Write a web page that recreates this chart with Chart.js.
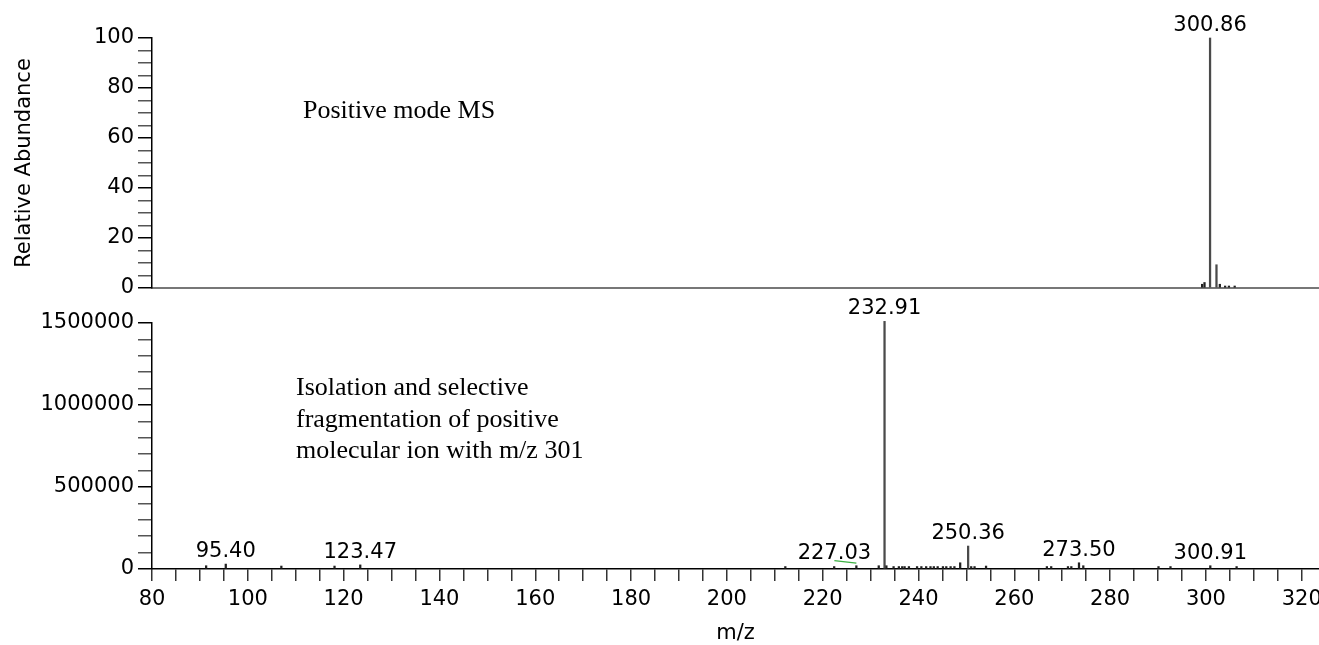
<!DOCTYPE html>
<html><head><meta charset="utf-8">
<script src="https://cdn.jsdelivr.net/npm/chart.js@4.4.1/dist/chart.umd.min.js"></script>
<style>
html,body{margin:0;padding:0;background:#fff;width:1319px;height:645px;overflow:hidden;}
canvas{position:absolute;left:0;}
#c1{top:0;} #c2{top:280px;}
</style></head><body>
<canvas id="c1" width="1319" height="310"></canvas>
<canvas id="c2" width="1319" height="365"></canvas>
<script>
// ---- data ----
const xTickLabels = [80,100,120,140,160,180,200,220,240,260,280,300,320];
const topYTickLabels = [0,20,40,60,80,100];
const botYTickLabels = [0,500000,1000000,1500000];

const topMz    = [299.2, 299.7, 300.86, 302.2, 302.9, 304.0, 304.8, 306.0];
const topAbund = [1.5,   2.2,   100,    9.3,   1.5,   0.8,   0.8,   0.8];
const topLabeled = [300.86];

const botMz  = [91.3, 95.40, 107.0, 118.1, 123.47, 212.2, 222.4, 227.03, 231.7, 232.91, 233.3,
                234.8, 235.9, 236.6, 237.1, 238.0, 239.7, 240.6, 241.6, 242.5, 243.2, 244.0,
                245.1, 245.8, 246.7, 247.5, 248.7, 250.36, 251.0, 251.7, 254.1, 266.8, 267.7,
                271.2, 271.9, 273.50, 274.4, 290.1, 292.6, 300.91, 306.4];
const botInt = [20000, 30000, 18000, 18000, 25000, 15000, 15000, 20000, 20000, 1510000, 20000,
                15000, 15000, 15000, 15000, 15000, 15000, 15000, 15000, 15000, 15000, 15000,
                15000, 15000, 15000, 15000, 38000, 140000, 15000, 15000, 18000, 15000, 15000,
                15000, 15000, 38000, 20000, 15000, 15000, 20000, 15000];
const botLabeled = [95.40, 123.47, 227.03, 232.91, 250.36, 273.50, 300.91];

const topNote = ['Positive mode MS'];
const botNote = ['Isolation and selective', 'fragmentation of positive', 'molecular ion with m/z 301'];

// ---- plugins ----
const peakLabels = {
  id: 'peakLabels',
  afterDatasetsDraw(chart, args, o) {
    const ctx = chart.ctx, xs = chart.scales.x, ys = chart.scales.y;
    ctx.save();
    ctx.font = '21px "DejaVu Sans"';
    ctx.fillStyle = '#000';
    ctx.textAlign = 'center';
    ctx.textBaseline = 'alphabetic';
    o.labeled.forEach(mz => {
      const i = o.mz.indexOf(mz);
      const px = xs.getPixelForValue(mz);
      const py = ys.getPixelForValue(o.val[i]);
      const dx = (o.shift && o.shift[mz]) || 0;
      const by = py - 7;
      ctx.fillText(mz.toFixed(2), px + dx, by);
      if (dx) {
        ctx.strokeStyle = '#3cb043';
        ctx.lineWidth = 1.2;
        ctx.beginPath();
        ctx.moveTo(px + dx, by + 2);
        ctx.lineTo(px, by + 4.5);
        ctx.stroke();
      }
    });
    ctx.restore();
  }
};
const notes = {
  id: 'notes',
  afterDraw(chart, args, o) {
    const ctx = chart.ctx;
    ctx.save();
    ctx.font = '26px "Liberation Serif"';
    ctx.fillStyle = '#000';
    ctx.textAlign = 'left';
    ctx.textBaseline = 'alphabetic';
    o.lines.forEach((t, k) => ctx.fillText(t, o.x, o.y + k * o.dy));
    ctx.restore();
  }
};

const tickFont = {family: 'DejaVu Sans', size: 21};

function xScale(full) {
  return {
    type: 'linear', min: 80, max: 323.6, offset: false,
    ticks: {display: full, stepSize: 5, includeBounds: false, autoSkip: false, maxRotation: 0, minRotation: 0,
            padding: 6, color: '#000', font: tickFont,
            callback: v => xTickLabels.includes(v) ? String(v) : ''},
    grid: {display: true, drawOnChartArea: false, drawTicks: full, tickLength: 12, offset: false,
           color: full ? '#333' : 'rgba(0,0,0,0)', lineWidth: 1.5},
    border: {display: true, color: full ? '#000' : '#777', width: full ? 1.5 : 2},
    title: {display: full, text: 'm/z', color: '#000', font: {family: 'DejaVu Sans', size: 21, lineHeight: 1},
            padding: {top: 0, bottom: 1}},
    afterFit: s => { s.height = full ? 76 : 22; s.paddingLeft = 0; s.paddingRight = 0; }
  };
}
function yScale(max, step, labels, title) {
  return {
    type: 'linear', min: 0, max: max,
    ticks: {stepSize: step, includeBounds: false, autoSkip: false, padding: 4, color: '#000', font: tickFont,
            callback: v => labels.includes(v) ? String(v) : ''},
    grid: {display: true, drawOnChartArea: false, drawTicks: true, tickLength: 14,
           color: c => (c.tick && labels.includes(c.tick.value)) ? '#000' : '#555', lineWidth: 1.5},
    border: {display: true, color: '#000', width: 1.5},
    title: {display: !!title, text: title || '', color: '#000',
            font: {family: 'DejaVu Sans', size: 21, lineHeight: 1.2}, padding: {top: 12, bottom: 0}},
    afterFit: s => { s.width = 152; }
  };
}

function bars(mz, val, big) {
  return {
    data: mz.map((x, i) => ({x: x, y: val[i]})),
    backgroundColor: c => (c.raw && c.raw.y > big) ? '#4a4a4a' : '#222',
    borderWidth: 0, barThickness: 1.6, clip: false
  };
}

new Chart(document.getElementById('c1'), {
  type: 'bar',
  data: {datasets: [bars(topMz, topAbund, 5)]},
  options: {
    responsive: false, animation: false, devicePixelRatio: 1,
    layout: {padding: {top: 38, left: 0, right: 0, bottom: 0}},
    plugins: {legend: {display: false}, tooltip: {enabled: false},
              peakLabels: {mz: topMz, val: topAbund, labeled: topLabeled},
              notes: {lines: topNote, x: 303, y: 118, dy: 31.5}},
    scales: {x: xScale(false), y: yScale(100, 5, topYTickLabels, 'Relative Abundance')}
  },
  plugins: [peakLabels, notes]
});

new Chart(document.getElementById('c2'), {
  type: 'bar',
  data: {datasets: [bars(botMz, botInt, 100000)]},
  options: {
    responsive: false, animation: false, devicePixelRatio: 1,
    layout: {padding: {top: 43, left: 0, right: 0, bottom: 0}},
    plugins: {legend: {display: false}, tooltip: {enabled: false},
              peakLabels: {mz: botMz, val: botInt, labeled: botLabeled, shift: {227.03: -22}},
              notes: {lines: botNote, x: 296, y: 115, dy: 31.5}},
    scales: {x: xScale(true), y: yScale(1500000, 100000, botYTickLabels, '')}
  },
  plugins: [peakLabels, notes]
});
</script>
</body></html>
